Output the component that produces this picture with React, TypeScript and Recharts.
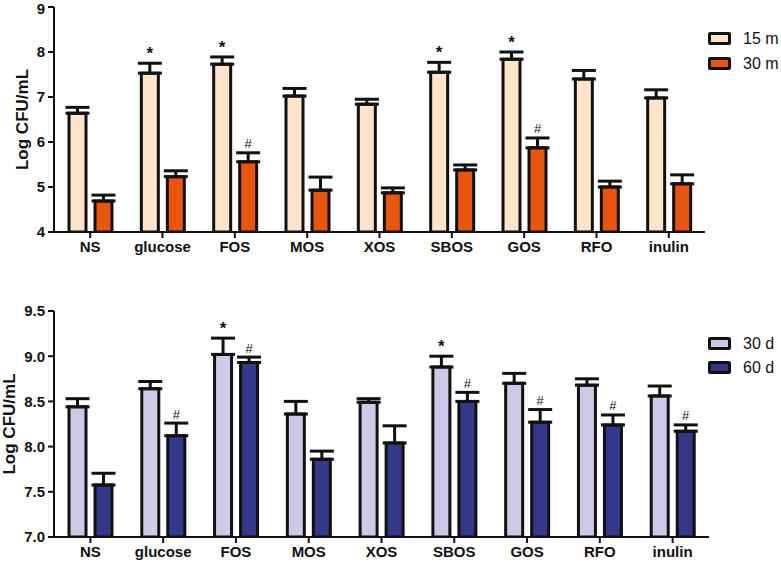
import { BarChart, Bar, XAxis, YAxis, ErrorBar, LabelList } from 'recharts'

const categories = ['NS', 'glucose', 'FOS', 'MOS', 'XOS', 'SBOS', 'GOS', 'RFO', 'inulin']

// top panel: 15 m / 30 m
const m15 = [6.64, 7.53, 7.73, 7.02, 6.84, 7.55, 7.84, 7.4, 6.98]
const m15Err = [0.13, 0.22, 0.16, 0.17, 0.11, 0.22, 0.16, 0.19, 0.18]
const m15Marks = ['', '*', '*', '', '', '*', '*', '', '']
const m30 = [4.69, 5.23, 5.56, 4.93, 4.87, 5.38, 5.87, 5.0, 5.07]
const m30Err = [0.13, 0.13, 0.2, 0.29, 0.11, 0.11, 0.22, 0.13, 0.2]
const m30Marks = ['', '', '#', '', '', '', '#', '', '']
const topTicks = [4, 5, 6, 7, 8, 9]

// bottom panel: 30 d / 60 d
const d30 = [8.44, 8.64, 9.02, 8.36, 8.49, 8.88, 8.7, 8.68, 8.56]
const d30Err = [0.09, 0.08, 0.18, 0.14, 0.04, 0.12, 0.11, 0.07, 0.11]
const d30Marks = ['', '', '*', '', '', '*', '', '', '']
const d60 = [7.575, 8.12, 8.93, 7.86, 8.04, 8.5, 8.27, 8.24, 8.17]
const d60Err = [0.13, 0.14, 0.06, 0.09, 0.19, 0.1, 0.14, 0.11, 0.07]
const d60Marks = ['', '#', '#', '', '', '#', '#', '#', '#']
const bottomTicks = [7.0, 7.5, 8.0, 8.5, 9.0, 9.5]

const FONT = "Arial, 'Liberation Sans', sans-serif"

interface Series {
  name: string
  values: number[]
  errs: number[]
  marks: string[]
  color: string
}

interface PanelProps {
  top: number
  height: number
  margin: { top: number; right: number; left: number; bottom: number }
  xAxisHeight: number
  domain: [number, number]
  ticks: number[]
  tickFormat: (v: number) => string
  labelX: number
  series: Series[]
  legendTop: number
  legendStep: number
}

function Panel(p: PanelProps) {
  const data = categories.map((c, i) => {
    const row: Record<string, unknown> = { name: c }
    p.series.forEach((s, k) => {
      row['v' + k] = s.values[i]
      row['e' + k] = [0, s.errs[i]]
      row['m' + k] = s.marks[i]
    })
    return row
  })

  const markContent = (k: number) => (props: any) => {
    const { x, y, width, height, index, value } = props
    if (!value) return null
    const s = p.series[k]
    const ppu = Math.abs(height) / (s.values[index] - p.domain[0])
    const capY = y - s.errs[index] * ppu
    const star = value === '*'
    return (
      <text
        x={x + width / 2}
        y={capY - (star ? 4 : 4.5)}
        textAnchor="middle"
        fontSize={star ? 17 : 13}
        fontWeight={star ? 'bold' : 'normal'}
        fontFamily={FONT}
        fill="#111"
      >
        {value}
      </text>
    )
  }

  return (
    <div style={{ position: 'absolute', left: 0, top: p.top, width: 781, height: p.height }}>
      <BarChart width={781} height={p.height} data={data} margin={p.margin} barGap={9} barCategoryGap="20%">
        <XAxis
          dataKey="name"
          height={p.xAxisHeight}
          axisLine={{ stroke: '#111', strokeWidth: 2 }}
          tickLine={{ stroke: '#111', strokeWidth: 2 }}
          tickSize={6}
          tickMargin={3}
          tick={{ fill: '#111', fontSize: 15, fontWeight: 'bold', fontFamily: FONT }}
          interval={0}
        />
        <YAxis
          width={54}
          domain={p.domain}
          ticks={p.ticks}
          allowDataOverflow
          tickFormatter={p.tickFormat}
          axisLine={{ stroke: '#111', strokeWidth: 2 }}
          tickLine={{ stroke: '#111', strokeWidth: 2 }}
          tickSize={6}
          tickMargin={3}
          tick={{ fill: '#111', fontSize: 15, fontWeight: 'bold', fontFamily: FONT }}
          label={{
            content: (lp: any) => {
              const vb = lp.viewBox
              const cy = vb.y + vb.height / 2
              return (
                <text
                  x={p.labelX}
                  y={cy}
                  transform={`rotate(-90, ${p.labelX}, ${cy})`}
                  textAnchor="middle"
                  dominantBaseline="central"
                  fontSize={17}
                  fontWeight="bold"
                  fontFamily={FONT}
                  fill="#111"
                >
                  Log CFU/mL
                </text>
              )
            },
          }}
        />
        {p.series.map((s, k) => (
          <Bar
            key={s.name}
            dataKey={'v' + k}
            name={s.name}
            fill={s.color}
            stroke="#111"
            strokeWidth={3}
            barSize={17}
            isAnimationActive={false}
          >
            <ErrorBar dataKey={'e' + k} width={12} stroke="#111" strokeWidth={3} direction="y" />
            <LabelList dataKey={'m' + k} content={markContent(k)} />
          </Bar>
        ))}
      </BarChart>
      {p.series.map((s, k) => (
        <div key={s.name} style={{ position: 'absolute', left: 708, top: p.legendTop + k * p.legendStep, height: 13, display: 'flex', alignItems: 'center' }}>
          <div style={{ width: 23, height: 13, boxSizing: 'border-box', border: '3px solid #111', borderRadius: 2, background: s.color }} />
          <span style={{ marginLeft: 12, fontSize: 16, fontFamily: FONT, color: '#111', whiteSpace: 'nowrap' }}>{s.name}</span>
        </div>
      ))}
    </div>
  )
}

export default function App() {
  return (
    <div style={{ position: 'absolute', left: 0, top: 0, width: 781, height: 563, background: '#fff', overflow: 'hidden' }}>
      <Panel
        top={0}
        height={270}
        margin={{ top: 7, right: 76, left: 0, bottom: 8 }}
        xAxisHeight={30}
        domain={[4, 9]}
        ticks={topTicks}
        tickFormat={(v) => String(v)}
        labelX={22.5}
        series={[
          { name: '15 m', values: m15, errs: m15Err, marks: m15Marks, color: '#FEE4CA' },
          { name: '30 m', values: m30, errs: m30Err, marks: m30Marks, color: '#E8550F' },
        ]}
        legendTop={32}
        legendStep={25}
      />
      <Panel
        top={280}
        height={283}
        margin={{ top: 31, right: 72, left: 0, bottom: 0 }}
        xAxisHeight={26}
        domain={[7, 9.5]}
        ticks={bottomTicks}
        tickFormat={(v) => v.toFixed(1)}
        labelX={9}
        series={[
          { name: '30 d', values: d30, errs: d30Err, marks: d30Marks, color: '#CDC9E6' },
          { name: '60 d', values: d60, errs: d60Err, marks: d60Marks, color: '#343889' },
        ]}
        legendTop={57}
        legendStep={24}
      />
    </div>
  )
}
